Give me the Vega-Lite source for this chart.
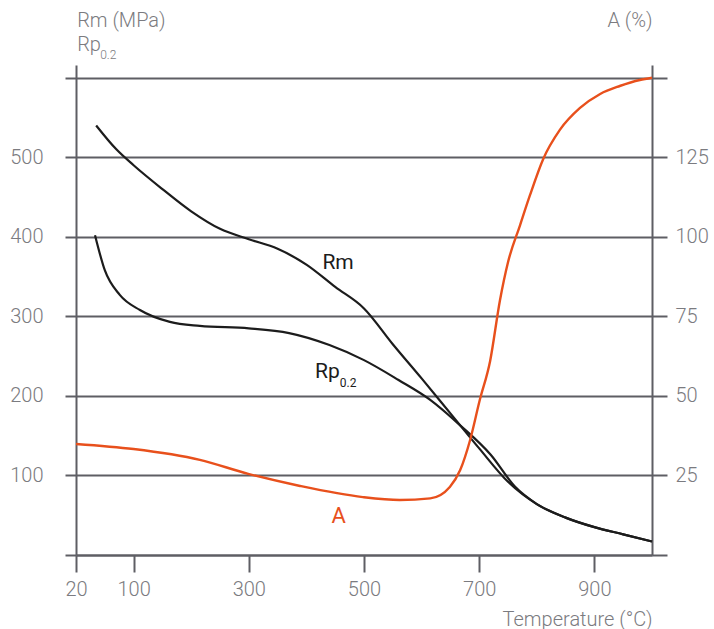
{
  "$schema": "https://vega.github.io/schema/vega-lite/v6.json",
  "width": 576,
  "height": 490,
  "autosize": {"type": "none"},
  "padding": {"left": 76, "top": 65, "right": 62, "bottom": 74},
  "background": "white",
  "config": {"view": {"stroke": null}, "font": "Roboto"},
  "datasets": {
    "mech": [
      {"series": "Rm", "T": 35, "MPa": 540}, {"series": "Rm", "T": 70, "MPa": 510}, {"series": "Rm", "T": 100, "MPa": 490},
      {"series": "Rm", "T": 150, "MPa": 460}, {"series": "Rm", "T": 200, "MPa": 432}, {"series": "Rm", "T": 250, "MPa": 410},
      {"series": "Rm", "T": 300, "MPa": 397}, {"series": "Rm", "T": 350, "MPa": 385}, {"series": "Rm", "T": 400, "MPa": 365},
      {"series": "Rm", "T": 450, "MPa": 337}, {"series": "Rm", "T": 500, "MPa": 310}, {"series": "Rm", "T": 550, "MPa": 265},
      {"series": "Rm", "T": 600, "MPa": 222}, {"series": "Rm", "T": 650, "MPa": 178}, {"series": "Rm", "T": 700, "MPa": 134},
      {"series": "Rm", "T": 750, "MPa": 92}, {"series": "Rm", "T": 800, "MPa": 64}, {"series": "Rm", "T": 850, "MPa": 47},
      {"series": "Rm", "T": 900, "MPa": 35}, {"series": "Rm", "T": 950, "MPa": 26}, {"series": "Rm", "T": 1000, "MPa": 17},
      {"series": "Rp", "T": 33, "MPa": 402}, {"series": "Rp", "T": 50, "MPa": 358}, {"series": "Rp", "T": 76, "MPa": 327},
      {"series": "Rp", "T": 111, "MPa": 308}, {"series": "Rp", "T": 163, "MPa": 293}, {"series": "Rp", "T": 215, "MPa": 288},
      {"series": "Rp", "T": 300, "MPa": 285}, {"series": "Rp", "T": 370, "MPa": 279}, {"series": "Rp", "T": 440, "MPa": 264},
      {"series": "Rp", "T": 500, "MPa": 245}, {"series": "Rp", "T": 560, "MPa": 220}, {"series": "Rp", "T": 615, "MPa": 195},
      {"series": "Rp", "T": 667, "MPa": 163}, {"series": "Rp", "T": 720, "MPa": 126}, {"series": "Rp", "T": 762, "MPa": 86},
      {"series": "Rp", "T": 800, "MPa": 64}, {"series": "Rp", "T": 850, "MPa": 47}, {"series": "Rp", "T": 900, "MPa": 35},
      {"series": "Rp", "T": 950, "MPa": 26}, {"series": "Rp", "T": 1000, "MPa": 17}
    ],
    "elong": [
      {"T": 0, "A": 34.9}, {"T": 100, "A": 33.3}, {"T": 215, "A": 29.9}, {"T": 299, "A": 25.5},
      {"T": 389, "A": 21.7}, {"T": 498, "A": 18.2}, {"T": 562, "A": 17.3}, {"T": 615, "A": 17.8},
      {"T": 649, "A": 21.4}, {"T": 667, "A": 26.7}, {"T": 684, "A": 36}, {"T": 701, "A": 48.7},
      {"T": 719, "A": 61}, {"T": 736, "A": 80}, {"T": 750, "A": 92}, {"T": 771, "A": 103.7},
      {"T": 788, "A": 113}, {"T": 811, "A": 124.4}, {"T": 840, "A": 133.6}, {"T": 875, "A": 140.5},
      {"T": 910, "A": 144.9}, {"T": 944, "A": 147.4}, {"T": 979, "A": 149.3}, {"T": 1000, "A": 150}
    ],
    "labels": [
      {"role": "big", "text": "Rm", "T": 455, "MPa": 359},
      {"role": "bigleft", "text": "Rp", "T": 415, "MPa": 222},
      {"role": "sub", "text": "0.2", "T": 458, "MPa": 211},
      {"role": "orange", "text": "A", "T": 456, "MPa": 40},
      {"role": "title", "text": "Rm (MPa)", "T": 2, "MPa": 664},
      {"role": "title", "text": "Rp", "T": 2, "MPa": 633},
      {"role": "titlesub", "text": "0.2", "T": 42, "MPa": 624},
      {"role": "titleright", "text": "A (%)", "T": 1001, "MPa": 664}
    ]
  },
  "layer": [
    {
      "data": {"name": "mech"},
      "mark": {"type": "line", "interpolate": "monotone", "color": "#1c1c1c", "strokeWidth": 2.2},
      "encoding": {
        "x": {
          "field": "T", "type": "quantitative",
          "scale": {"domain": [0, 1000], "nice": false, "zero": false},
          "axis": {
            "orient": "bottom",
            "values": [0, 100, 300, 500, 700, 900],
            "labelExpr": "datum.value == 0 ? '20' : datum.label",
            "grid": false,
            "tickSize": 17, "tickWidth": 2, "tickColor": "#5e5e64",
            "domainColor": "#5e5e64", "domainWidth": 2,
            "labelFont": "Roboto", "labelFontSize": 20, "labelFontWeight": 300, "labelColor": "#7b7b80",
            "labelPadding": 7, "labelFlush": false, "labelOverlap": false,
            "title": "Temperature (°C)",
            "titleAnchor": "end", "titleFont": "Roboto", "titleFontSize": 20, "titleFontWeight": 300,
            "titleColor": "#7b7b80", "titlePadding": 10
          }
        },
        "y": {
          "field": "MPa", "type": "quantitative",
          "scale": {"domain": [0, 616], "nice": false, "zero": false},
          "axis": {
            "orient": "left",
            "values": [0, 100, 200, 300, 400, 500, 600],
            "labelExpr": "(datum.value == 0 || datum.value == 600) ? '' : datum.label",
            "grid": true, "gridColor": "#5e5e64", "gridWidth": 2,
            "tickSize": 11, "tickWidth": 2, "tickColor": "#5e5e64",
            "domainColor": "#5e5e64", "domainWidth": 2,
            "labelFont": "Roboto", "labelFontSize": 20, "labelFontWeight": 300, "labelColor": "#7b7b80",
            "labelPadding": 22, "labelOverlap": false, "labelFlush": false,
            "title": null
          }
        },
        "detail": {"field": "series"}
      }
    },
    {
      "data": {"name": "elong"},
      "mark": {"type": "line", "interpolate": "monotone", "color": "#e8501c", "strokeWidth": 2.4},
      "encoding": {
        "x": {"field": "T", "type": "quantitative"},
        "y": {
          "field": "A", "type": "quantitative",
          "scale": {"domain": [0, 154], "nice": false, "zero": false},
          "axis": {
            "orient": "right",
            "values": [0, 25, 50, 75, 100, 125, 150],
            "labelExpr": "(datum.value == 0 || datum.value == 150) ? '' : datum.label",
            "grid": false,
            "tickSize": 15, "tickWidth": 2, "tickColor": "#5e5e64",
            "domainColor": "#5e5e64", "domainWidth": 2,
            "labelFont": "Roboto", "labelFontSize": 20, "labelFontWeight": 300, "labelColor": "#7b7b80",
            "labelPadding": 8, "labelOverlap": false, "labelFlush": false,
            "title": null
          }
        }
      }
    },
    {
      "data": {"name": "labels"},
      "transform": [{"filter": "datum.role == 'big'"}],
      "mark": {"type": "text", "font": "Roboto", "fontSize": 21, "color": "#1c1c1c", "align": "center", "baseline": "alphabetic"},
      "encoding": {
        "x": {"field": "T", "type": "quantitative"},
        "y": {"field": "MPa", "type": "quantitative", "scale": {"domain": [0, 616], "nice": false, "zero": false}, "axis": null},
        "text": {"field": "text"}
      }
    },
    {
      "data": {"name": "labels"},
      "transform": [{"filter": "datum.role == 'bigleft'"}],
      "mark": {"type": "text", "font": "Roboto", "fontSize": 21, "color": "#1c1c1c", "align": "left", "baseline": "alphabetic"},
      "encoding": {
        "x": {"field": "T", "type": "quantitative"},
        "y": {"field": "MPa", "type": "quantitative", "scale": {"domain": [0, 616], "nice": false, "zero": false}, "axis": null},
        "text": {"field": "text"}
      }
    },
    {
      "data": {"name": "labels"},
      "transform": [{"filter": "datum.role == 'sub'"}],
      "mark": {"type": "text", "font": "Roboto", "fontSize": 12, "color": "#1c1c1c", "align": "left", "baseline": "alphabetic"},
      "encoding": {
        "x": {"field": "T", "type": "quantitative"},
        "y": {"field": "MPa", "type": "quantitative", "scale": {"domain": [0, 616], "nice": false, "zero": false}, "axis": null},
        "text": {"field": "text"}
      }
    },
    {
      "data": {"name": "labels"},
      "transform": [{"filter": "datum.role == 'orange'"}],
      "mark": {"type": "text", "font": "Roboto", "fontSize": 22, "color": "#e8501c", "align": "center", "baseline": "alphabetic"},
      "encoding": {
        "x": {"field": "T", "type": "quantitative"},
        "y": {"field": "MPa", "type": "quantitative", "scale": {"domain": [0, 616], "nice": false, "zero": false}, "axis": null},
        "text": {"field": "text"}
      }
    },
    {
      "data": {"name": "labels"},
      "transform": [{"filter": "datum.role == 'title'"}],
      "mark": {"type": "text", "font": "Roboto", "fontSize": 20, "fontWeight": 300, "color": "#7b7b80", "align": "left", "baseline": "alphabetic"},
      "encoding": {
        "x": {"field": "T", "type": "quantitative"},
        "y": {"field": "MPa", "type": "quantitative", "scale": {"domain": [0, 616], "nice": false, "zero": false}, "axis": null},
        "text": {"field": "text"}
      }
    },
    {
      "data": {"name": "labels"},
      "transform": [{"filter": "datum.role == 'titlesub'"}],
      "mark": {"type": "text", "font": "Roboto", "fontSize": 12, "fontWeight": 300, "color": "#7b7b80", "align": "left", "baseline": "alphabetic"},
      "encoding": {
        "x": {"field": "T", "type": "quantitative"},
        "y": {"field": "MPa", "type": "quantitative", "scale": {"domain": [0, 616], "nice": false, "zero": false}, "axis": null},
        "text": {"field": "text"}
      }
    },
    {
      "data": {"name": "labels"},
      "transform": [{"filter": "datum.role == 'titleright'"}],
      "mark": {"type": "text", "font": "Roboto", "fontSize": 20, "fontWeight": 300, "color": "#7b7b80", "align": "right", "baseline": "alphabetic"},
      "encoding": {
        "x": {"field": "T", "type": "quantitative"},
        "y": {"field": "MPa", "type": "quantitative", "scale": {"domain": [0, 616], "nice": false, "zero": false}, "axis": null},
        "text": {"field": "text"}
      }
    }
  ],
  "resolve": {"scale": {"y": "independent"}}
}
